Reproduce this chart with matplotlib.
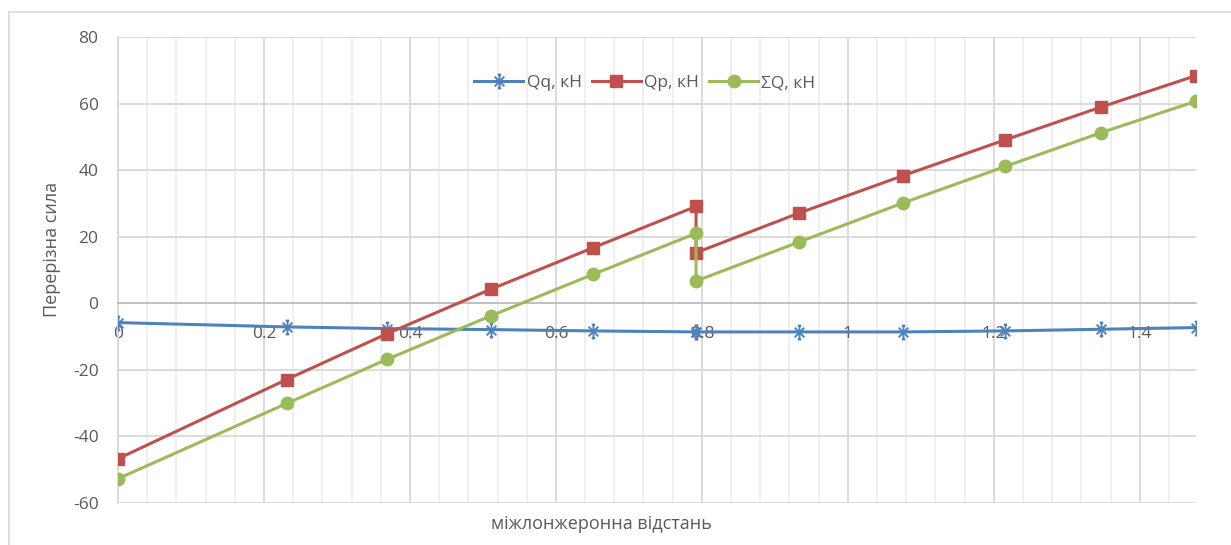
import matplotlib
matplotlib.use("Agg")
import matplotlib.pyplot as plt
from matplotlib.path import Path
from matplotlib.ticker import MultipleLocator, FuncFormatter
from matplotlib.lines import Line2D

# ---- data ----
x = [0.0, 0.231, 0.369, 0.5105, 0.651, 0.792, 0.792, 0.933, 1.075, 1.2155, 1.3475, 1.477]
qq = [-5.8, -7.1, -7.6, -7.9, -8.3, -8.6, -8.6, -8.6, -8.6, -8.3, -7.8, -7.3]
qp = [-46.7, -22.9, -9.1, 4.2, 16.7, 29.1, 15.2, 27.1, 38.3, 49.1, 59.0, 68.4]
sq = [-52.7, -30.1, -16.8, -3.8, 8.7, 21.0, 6.7, 18.4, 30.1, 41.1, 51.3, 60.7]
series_names = ["Qq, кН", "Qp, кН", "ΣQ, кН"]
x_label = "міжлонжеронна відстань"
y_label = "Перерізна сила"

plt.rcParams['font.family'] = ['Open Sans', 'DejaVu Sans']
plt.rcParams['axes.unicode_minus'] = False
txt = '#595959'

W, H = 1231, 545
fig = plt.figure(figsize=(W / 100, H / 100), dpi=100)

# outer chart border (partially cropped in reference)
fig.add_artist(Line2D([9 / W, 1.0], [1 - 12 / H, 1 - 12 / H], color='#D9D9D9', lw=1.2, transform=fig.transFigure))
fig.add_artist(Line2D([9 / W, 9 / W], [0, 1 - 12 / H], color='#D9D9D9', lw=1.2, transform=fig.transFigure))

ax = fig.add_axes([118 / W, 42 / H, (1196 - 118) / W, (503 - 37) / H])

# star marker similar to Excel's
verts = [(0, -1), (0, 1), (-0.7, -0.7), (0.7, 0.7), (-0.7, 0.7), (0.7, -0.7),
         (-0.25, 1), (0.25, 1), (-0.25, -1), (0.25, -1)]
codes = [Path.MOVETO, Path.LINETO] * 5
star = Path(verts, codes)

c_blue, c_red, c_green = '#4F81BD', '#C0504D', '#9BBB59'
ax.plot(x, qq, color=c_blue, lw=2.2, marker=star, ms=10, mew=1.4,
        mfc='none', mec=c_blue, label=series_names[0], zorder=3)
ax.plot(x, qp, color=c_red, lw=2.2, marker='s', ms=8.5, mec=c_red, mfc=c_red,
        label=series_names[1], zorder=4)
ax.plot(x, sq, color=c_green, lw=2.2, marker='o', ms=9, mec=c_green, mfc=c_green,
        label=series_names[2], zorder=5)

ax.set_xlim(0, x[-1])
ax.set_ylim(-60, 80)
ax.xaxis.set_major_locator(MultipleLocator(0.2))
ax.xaxis.set_minor_locator(MultipleLocator(0.04))
ax.yaxis.set_major_locator(MultipleLocator(20))
ax.xaxis.set_major_formatter(FuncFormatter(lambda v, p: '%g' % round(v, 2)))

ax.grid(which='major', axis='both', color='#D9D9D9', lw=1.3, zorder=0)
ax.grid(which='minor', axis='x', color='#EEEEEE', lw=1.3, zorder=0)
ax.set_axisbelow(True)

for s in ['top', 'right']:
    ax.spines[s].set_visible(False)
ax.spines['bottom'].set_position(('data', 0))
ax.spines['bottom'].set_color('#BFBFBF')
ax.spines['bottom'].set_linewidth(1.3)
ax.spines['left'].set_color('#D9D9D9')
ax.spines['left'].set_linewidth(1.3)

ax.tick_params(axis='both', which='both', length=0, colors=txt, labelsize=12.5)
ax.tick_params(axis='x', pad=16)
ax.tick_params(axis='y', pad=14)

ax.set_xlabel(x_label, fontsize=13, color=txt)
ax.xaxis.set_label_coords((601 - 118) / (1196 - 118), -(515 - 503) / (503 - 37))
ax.set_ylabel(y_label, fontsize=13, color=txt)
ax.yaxis.set_label_coords(-(118 - 61) / (1196 - 118), (503 - 249) / (503 - 37))

leg = ax.legend(loc='center', bbox_to_anchor=((645 - 118) / (1196 - 118), (503 - 83) / (503 - 37)),
                ncol=3, frameon=False, fontsize=12.5, handlelength=2.8, columnspacing=0.6,
                handletextpad=0.2, borderaxespad=0)
for t in leg.get_texts():
    t.set_color(txt)

fig.savefig('out.png', dpi=100)
